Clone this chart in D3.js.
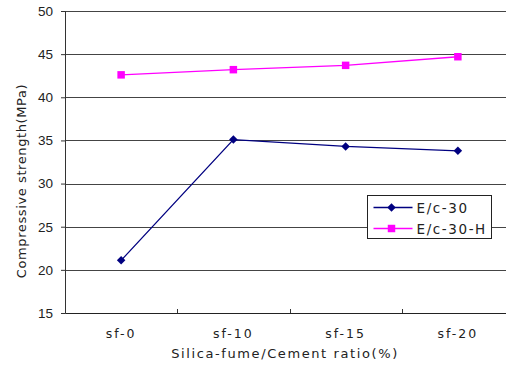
<!DOCTYPE html>
<html>
<head>
<meta charset="utf-8">
<script src="https://cdn.jsdelivr.net/npm/d3@7"></script>
<style>
  body { margin: 0; background: #fff; }
  svg { display: block; }
  text { font-family: "DejaVu Sans", sans-serif; fill: #222; }
</style>
</head>
<body>
<svg id="chart"></svg>
<script>
// chart data
const categories = ['sf-0', 'sf-10', 'sf-15', 'sf-20']
const ec30 = [21.1, 35.1, 34.3, 33.8]
const ec30H = [42.6, 43.2, 43.7, 44.7]
const yTicks = [15, 20, 25, 30, 35, 40, 45, 50]

const width = 506
const height = 367
const margin = { left: 65, top: 11, right: -8, bottom: 54 }
const plotW = width - margin.left - margin.right
const plotH = height - margin.top - margin.bottom

const svg = d3.select('#chart')
  .attr('width', width)
  .attr('height', height)

const g = svg.append('g')
  .attr('transform', `translate(${margin.left},${margin.top})`)

const x = d3.scaleBand().domain(categories).range([0, plotW])
const y = d3.scaleLinear().domain([15, 50]).range([plotH, 0])

// gridlines
g.append('g')
  .selectAll('line')
  .data(yTicks.filter(t => t !== 15))
  .enter().append('line')
  .attr('x1', 0).attr('x2', plotW)
  .attr('y1', d => Math.round(y(d)) + 0.5)
  .attr('y2', d => Math.round(y(d)) + 0.5)
  .attr('stroke', '#444')
  .attr('stroke-width', 1)

// y axis
const yAxis = g.append('g')
  .call(d3.axisLeft(y).tickValues(yTicks).tickSize(4).tickPadding(8))
yAxis.select('.domain').attr('stroke', '#333')
yAxis.selectAll('.tick line').attr('stroke', '#333')
yAxis.selectAll('text')
  .attr('font-size', '13.5px')
  .attr('fill', '#333')
  .style('font-family', '"Liberation Sans", Arial, sans-serif')

// x axis
const xAxis = g.append('g')
  .attr('transform', `translate(0,${plotH})`)
  .call(d3.axisBottom(x).tickSize(0).tickPadding(16))
xAxis.select('.domain').attr('stroke', '#222').attr('stroke-width', 1.2)
xAxis.selectAll('text')
  .attr('font-size', '12.5px')
  .attr('fill', '#333')
  .style('letter-spacing', '2px')

// category separator ticks
g.append('g')
  .selectAll('line')
  .data(categories.slice(1))
  .enter().append('line')
  .attr('x1', d => Math.round(x(d)) + 0.5)
  .attr('x2', d => Math.round(x(d)) + 0.5)
  .attr('y1', plotH - 4)
  .attr('y2', plotH)
  .attr('stroke', '#333')

// axis titles
svg.append('text')
  .attr('x', 285)
  .attr('y', 358)
  .attr('text-anchor', 'middle')
  .attr('font-size', '13px')
  .style('letter-spacing', '1.6px')
  .attr('fill', '#333')
  .text('Silica-fume/Cement ratio(%)')

svg.append('text')
  .attr('transform', 'translate(26,181) rotate(-90)')
  .attr('text-anchor', 'middle')
  .attr('font-size', '13px')
  .attr('fill', '#333')
  .style('letter-spacing', '0.6px')
  .text('Compressive strength(MPa)')

const cx = d => x(d) + x.bandwidth() / 2

const series = [
  { name: 'E/c-30', values: ec30, color: '#000080', shape: d3.symbolSquare, size: 36, rotate: 45 },
  { name: 'E/c-30-H', values: ec30H, color: '#ff00ff', shape: d3.symbolSquare, size: 56, rotate: 0 }
]

const line = d3.line()
  .x((d, i) => cx(categories[i]))
  .y(d => y(d))

series.forEach(s => {
  g.append('path')
    .datum(s.values)
    .attr('fill', 'none')
    .attr('stroke', s.color)
    .attr('stroke-width', 1.3)
    .attr('d', line)

  g.append('g')
    .selectAll('path')
    .data(s.values)
    .enter().append('path')
    .attr('transform', (d, i) => `translate(${cx(categories[i])},${y(d)}) rotate(${s.rotate})`)
    .attr('d', d3.symbol().type(s.shape).size(s.size))
    .attr('fill', s.color)
})

// legend
const legend = svg.append('g').attr('transform', 'translate(367.5,195.5)')
legend.append('rect')
  .attr('width', 124).attr('height', 43)
  .attr('fill', '#fff')
  .attr('stroke', '#222')

series.forEach((s, i) => {
  const ly = 12 + i * 21
  legend.append('line')
    .attr('x1', 6).attr('x2', 45)
    .attr('y1', ly).attr('y2', ly)
    .attr('stroke', s.color)
    .attr('stroke-width', 1.3)
  legend.append('path')
    .attr('transform', `translate(24,${ly}) rotate(${s.rotate})`)
    .attr('d', d3.symbol().type(s.shape).size(s.size))
    .attr('fill', s.color)
  legend.append('text')
    .attr('x', 49).attr('y', ly + 5)
    .attr('font-size', '13.5px')
    .attr('fill', '#333')
    .style('letter-spacing', '1.6px')
    .text(s.name)
})
</script>
</body>
</html>
